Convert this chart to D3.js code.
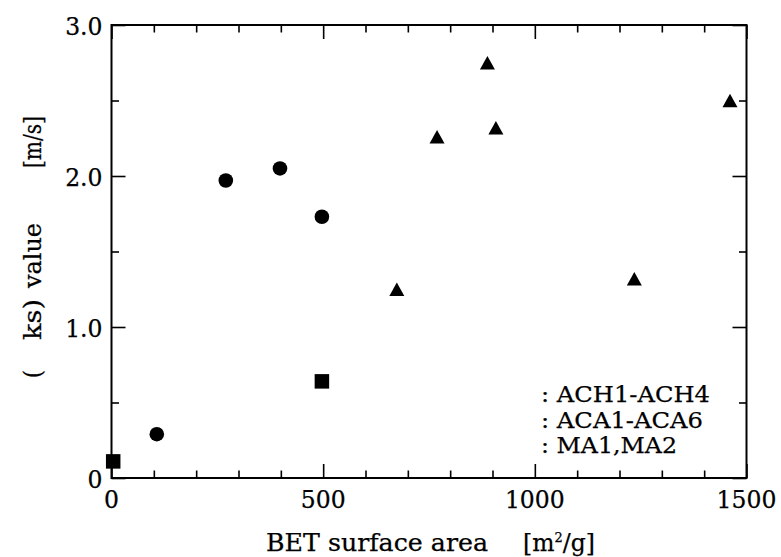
<!DOCTYPE html>
<html>
<head>
<meta charset="utf-8">
<script src="https://cdn.jsdelivr.net/npm/d3@7"></script>
<style>
  html, body { margin: 0; padding: 0; background: #fff; }
  svg text { font-family: "DejaVu Serif", "Liberation Serif", serif; fill: #000; stroke: #000; stroke-width: 0.25; }
</style>
</head>
<body>
<svg id="chart" width="781" height="557"></svg>
<script>
// Activated carbon samples: BET surface area [m2/g] vs (ks) value [m/s]
const achX = [107, 270, 398, 497];
const achY = [0.29, 1.97, 2.05, 1.73];
const acaX = [674, 769, 888, 908, 1235, 1461];
const acaY = [1.25, 2.26, 2.75, 2.32, 1.32, 2.50];
const maX = [4, 497];
const maY = [0.11, 0.64];

const xMajor = [0, 500, 1000, 1500];
const xMinor = [100, 200, 300, 400, 600, 700, 800, 900, 1100, 1200, 1300, 1400];
const yMajor = [0, 1.0, 2.0, 3.0];
const yMinor = [0.5, 1.5, 2.5];
const xTickLabels = ["0", "500", "1000", "1500"];
const yTickLabels = ["0", "1.0", "2.0", "3.0"];
const legendLabels = [": ACH1-ACH4", ": ACA1-ACA6", ": MA1,MA2"];

const W = 781, H = 557;
const margin = { left: 111.5, right: 34.5, top: 25, bottom: 79 };
const svg = d3.select("#chart");

const x = d3.scaleLinear().domain([0, 1500]).range([margin.left, W - margin.right]);
const y = d3.scaleLinear().domain([0, 3]).range([H - margin.bottom, margin.top]);

const majorLen = 14, minorLen = 7.5;

// Inward ticks on all four sides
function tickAxis(axisFn, scale, major, minor, translate) {
  const gMaj = svg.append("g").attr("transform", translate)
    .call(axisFn(scale).tickValues(major).tickSize(majorLen).tickFormat(""));
  const gMin = svg.append("g").attr("transform", translate)
    .call(axisFn(scale).tickValues(minor).tickSize(minorLen).tickFormat(""));
  [gMaj, gMin].forEach(g => {
    g.select(".domain").remove();
    g.selectAll("line").attr("stroke", "#000").attr("stroke-width", 1.6);
  });
}
const x0 = margin.left, x1 = W - margin.right, y0 = H - margin.bottom, y1 = margin.top;
tickAxis(d3.axisTop, x, xMajor, xMinor, `translate(0,${y0})`);
tickAxis(d3.axisBottom, x, xMajor, xMinor, `translate(0,${y1})`);
tickAxis(d3.axisRight, y, yMajor, yMinor, `translate(${x0},0)`);
tickAxis(d3.axisLeft, y, yMajor, yMinor, `translate(${x1},0)`);

// Frame
svg.append("rect")
  .attr("x", x0).attr("y", y1)
  .attr("width", x1 - x0).attr("height", y0 - y1)
  .attr("fill", "none").attr("stroke", "#000").attr("stroke-width", 2);

// Tick labels
svg.append("g").selectAll("text").data(xMajor).join("text")
  .attr("x", d => x(d)).attr("y", y0 + 30)
  .attr("text-anchor", "middle").attr("font-size", 23.5)
  .text((d, i) => xTickLabels[i]);

svg.append("g").selectAll("text").data(yMajor).join("text")
  .attr("x", x0 - 9).attr("y", d => y(d) + 9.5)
  .attr("text-anchor", "end").attr("font-size", 23.5)
  .text((d, i) => yTickLabels[i]);

// Axis titles
const fit = (sel, len) => sel.attr("textLength", len).attr("lengthAdjust", "spacingAndGlyphs");

fit(svg.append("text").attr("x", 266).attr("y", 551).attr("font-size", 23.5)
  .text("BET surface area"), 222);
const unit = svg.append("text").attr("x", 523).attr("y", 551).attr("font-size", 23.5);
unit.append("tspan").text("[m");
unit.append("tspan").attr("dy", -9).attr("font-size", 13).text("2");
unit.append("tspan").attr("dy", 9).text("/g]");

const yTitle = [
  { t: "(", start: 378, len: 8 },
  { t: "ks)", start: 340, len: 41 },
  { t: "value", start: 288, len: 65 },
  { t: "[m/s]", start: 168, len: 52 }
];
yTitle.forEach(p => {
  fit(svg.append("text")
    .attr("transform", `translate(41,${p.start}) rotate(-90)`)
    .attr("font-size", 23.5)
    .text(p.t), p.len);
});

// Markers
const triPath = (cx, cy) => {
  const w = 15, h = 13.5;
  return `M${cx},${cy - h / 2}L${cx + w / 2},${cy + h / 2}L${cx - w / 2},${cy + h / 2}Z`;
};

svg.append("g").selectAll("circle").data(d3.zip(achX, achY)).join("circle")
  .attr("cx", d => x(d[0])).attr("cy", d => y(d[1])).attr("r", 7.3)
  .attr("fill", "#000");

svg.append("g").selectAll("path").data(d3.zip(acaX, acaY)).join("path")
  .attr("d", d => triPath(x(d[0]), y(d[1])))
  .attr("fill", "#000");

const sq = 14.5;
svg.append("g").selectAll("rect").data(d3.zip(maX, maY)).join("rect")
  .attr("x", d => x(d[0]) - sq / 2).attr("y", d => y(d[1]) - sq / 2)
  .attr("width", sq).attr("height", sq)
  .attr("fill", "#000");

// Legend text
const legendLen = [169, 162, 136];
svg.append("g").selectAll("text").data(legendLabels).join("text")
  .attr("x", 541).attr("y", (d, i) => 402 + i * 25.7)
  .attr("font-size", 22.5)
  .attr("textLength", (d, i) => legendLen[i])
  .attr("lengthAdjust", "spacingAndGlyphs")
  .text(d => d);
</script>
</body>
</html>
